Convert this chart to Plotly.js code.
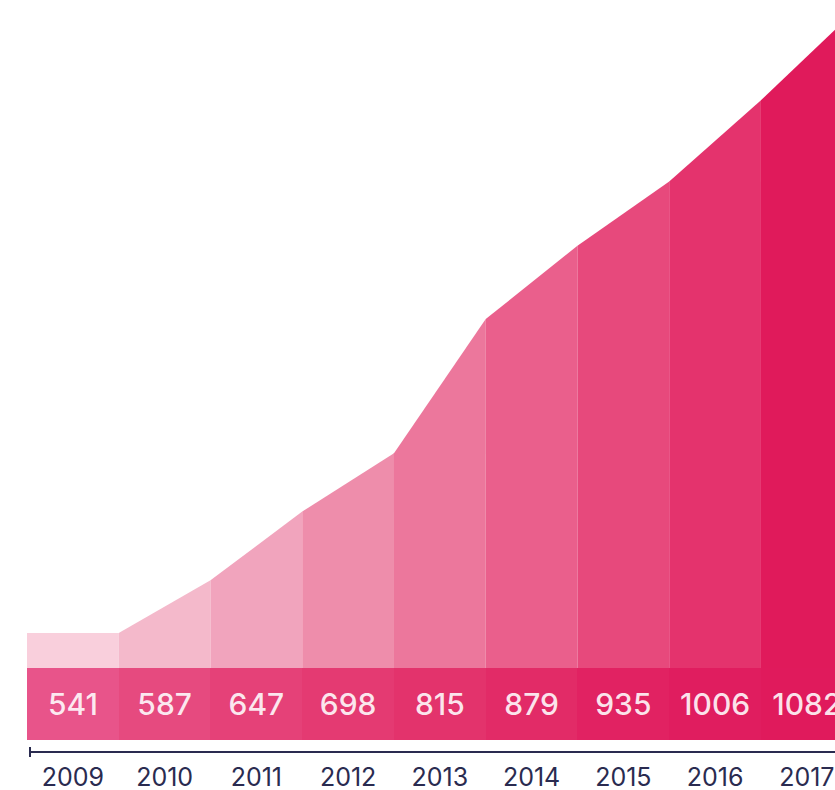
<!DOCTYPE html>
<html>
<head>
<meta charset="utf-8">
<script src="https://cdn.plot.ly/plotly-3.0.1.min.js"></script>
<style>html,body{margin:0;padding:0;background:#fff;}#chart{width:835px;height:790px;}</style>
</head>
<body>
<div id="chart"></div>
<script>
var years = ["2009","2010","2011","2012","2013","2014","2015","2016","2017"];
var values = [541, 587, 647, 698, 815, 879, 935, 1006, 1082];
var areaColors = ["#f9cfdc","#f4b9cb","#f1a4bd","#ee8dab","#ec779c","#ea5f8c","#e7497c","#e4336d","#e01a5b"];
var bandColors = ["#e8548a","#e64a7f","#e54178","#e43a72","#e3336c","#e22b67","#e12262","#e01d5f","#e01a5c"];

var traces = [];
var n = years.length;
for (var i = 0; i < n; i++) {
  var prev = i === 0 ? values[0] : values[i-1];
  traces.push({
    type: 'scatter', mode: 'lines',
    x: [i - 0.5, i + 0.5], y: [prev, values[i]],
    fill: 'tozeroy', fillcolor: areaColors[i],
    line: {width: 0, color: areaColors[i]},
    hoverinfo: 'skip', showlegend: false,
    xaxis: 'x', yaxis: 'y'
  });
}
var idx = years.map(function(_, i){ return i; });
traces.push({
  type: 'bar', x: idx, y: years.map(function(){ return 1; }), width: 1,
  marker: {color: bandColors, line: {width: 0}},
  text: values.map(String), textposition: 'inside', insidetextanchor: 'middle',
  textfont: {family: 'Inter, "DejaVu Sans", sans-serif', size: 30, weight: 500, color: 'rgba(255,255,255,0.88)'},
  hoverinfo: 'skip', showlegend: false,
  xaxis: 'x', yaxis: 'y2'
});

var layout = {
  width: 835, height: 790,
  margin: {l: 27, r: 0, t: 0, b: 50, pad: 0},
  paper_bgcolor: '#ffffff', plot_bgcolor: 'rgba(0,0,0,0)',
  showlegend: false, bargap: 0,
  xaxis: {
    range: [-0.5, 8.307], anchor: 'y2',
    tickvals: idx, ticktext: years,
    showgrid: false, zeroline: false, showline: false, ticks: '',
    ticklabelstandoff: 20,
    tickfont: {family: 'Inter, "DejaVu Sans", sans-serif', size: 25, color: '#2a2b50'}
  },
  yaxis: {
    domain: [72/740, 1], range: [510.5, 1093.4], anchor: 'x',
    visible: false, showgrid: false, zeroline: false
  },
  yaxis2: {
    domain: [0, 72/740], range: [0, 1], anchor: 'x',
    visible: false, showgrid: false, zeroline: false
  },
  shapes: [
    {type: 'line', xref: 'paper', yref: 'paper', x0: 3/808, x1: 1, y0: -12/740, y1: -12/740,
     line: {color: '#2a2b50', width: 2}},
    {type: 'line', xref: 'paper', yref: 'paper', x0: 3/808, x1: 3/808, y0: -7/740, y1: -17/740,
     line: {color: '#2a2b50', width: 2}}
  ]
};

Plotly.newPlot('chart', traces, layout, {staticPlot: true, displayModeBar: false});
</script>
</body>
</html>
